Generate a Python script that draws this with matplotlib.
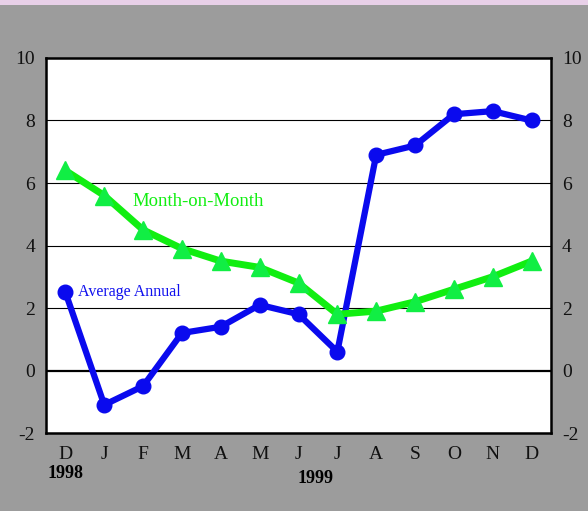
import matplotlib
matplotlib.use("Agg")
from matplotlib import pyplot as plt
import matplotlib.patches as mpatches

# month labels, Dec 1998 .. Dec 1999
months = ["D", "J", "F", "M", "A", "M", "J", "J", "A", "S", "O", "N", "D"]

# average annual (blue)
avg_annual = [2.5, -1.1, -0.5, 1.2, 1.4, 2.1, 1.8, 0.6, 6.9, 7.2, 8.2, 8.3, 8.0]

# month-on-month (green)
month_on_month = [6.4, 5.6, 4.5, 3.9, 3.5, 3.3, 2.8, 1.8, 1.9, 2.2, 2.6, 3.0, 3.5]

y_ticks = [-2, 0, 2, 4, 6, 8, 10]

plt.rcParams['font.family'] = ['Liberation Serif', 'DejaVu Serif']

fig = plt.figure(figsize=(5.88, 5.11), dpi=100)
fig.patch.set_facecolor("#9c9c9c")

# pink band at the top
fig.patches.append(mpatches.Rectangle((0, 1 - 5/511), 1, 5/511, transform=fig.transFigure,
                                      facecolor="#e8d0e8", edgecolor="none"))

ax = fig.add_axes([46/588, 78/511, 505/588, 375/511])
ax.set_facecolor("white")

x = list(range(len(months)))

# grid lines
for v in [2, 4, 6, 8]:
    ax.axhline(v, color="black", lw=0.8, zorder=1)
ax.axhline(0, color="black", lw=1.6, zorder=1)

ax.plot(x, avg_annual, color="#0a0aee", lw=4.5, marker="o", markersize=10.5,
        solid_joinstyle="round", zorder=3)
ax.plot(x, month_on_month, color="#11ee11", lw=5, zorder=4)
ax.plot(x, month_on_month, ls="none", marker="^", markersize=13, color="#11ee44",
        zorder=5)

ax.set_xlim(-0.5, 12.5)
ax.set_ylim(-2, 10)
ax.set_yticks(y_ticks)
ax.set_yticklabels([str(v) for v in y_ticks])
ax.set_xticks(x)
ax.set_xticklabels(months)
ax.tick_params(axis="both", length=0, labelsize=14, colors="#111111")
ax.tick_params(axis="y", pad=8, labelright=True, right=False)
ax.tick_params(axis="x", pad=9)

for s in ax.spines.values():
    s.set_linewidth(1.8)
    s.set_color("black")

ax.text(1.72, 5.4, "Month-on-Month", color="#11ee11", fontsize=13.5, va="center", ha="left")
ax.text(0.33, 2.5, "Average Annual", color="#1010ee", fontsize=11.5, va="center", ha="left")

# year labels
ax.text(0, -3.3, "1998", fontsize=13, ha="center", va="center", fontweight="bold",
        transform=ax.transData, clip_on=False)
ax.text(6.45, -3.45, "1999", fontsize=13, ha="center", va="center", fontweight="bold",
        transform=ax.transData, clip_on=False)

fig.savefig("out.png", dpi=100, facecolor=fig.get_facecolor())
